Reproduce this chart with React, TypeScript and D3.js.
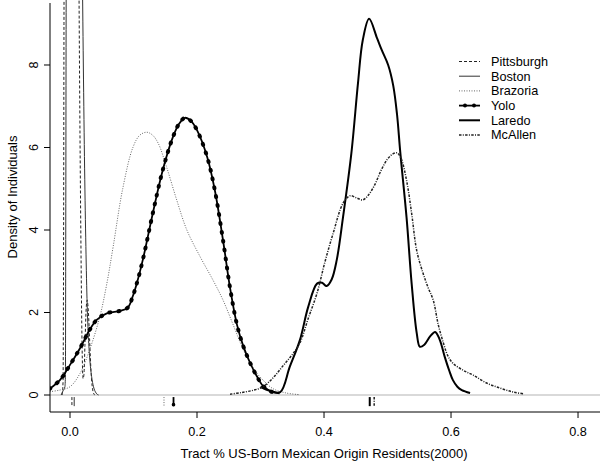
import React from "react";
import * as d3 from "d3";

// ---- data ----
const cityNames = ["Pittsburgh", "Boston", "Brazoria", "Yolo", "Laredo", "McAllen"];
const xTicks = [0, 0.2, 0.4, 0.6, 0.8];
const yTicks = [0, 2, 4, 6, 8];

const pittsburghDensity: [number, number][] = [
  [-0.0125, 0], [-0.011, 0.3], [-0.0102, 3], [-0.0095, 9], [-0.008, 16], [0.0, 28], [0.007, 28],
  [0.012, 16], [0.0145, 9], [0.017, 4], [0.019, 1.2], [0.0205, 0.4], [0.022, 0.5], [0.0235, 1.2],
  [0.0255, 2.1], [0.027, 2.3], [0.029, 2.0], [0.031, 1.3], [0.033, 0.6], [0.035, 0.2], [0.037, 0.05], [0.039, 0],
];
const bostonDensity: [number, number][] = [
  [-0.014, 0], [-0.011, 0.1], [-0.008, 0.2], [-0.0072, 0.5], [-0.0068, 3], [-0.006, 10], [-0.003, 20],
  [0.005, 30], [0.015, 20], [0.019, 11], [0.021, 8], [0.023, 5.5], [0.025, 3.6], [0.027, 2.2],
  [0.029, 1.4], [0.031, 0.9], [0.034, 0.45], [0.037, 0.2], [0.041, 0.05], [0.045, 0],
];
const brazoriaDensity: [number, number][] = [
  [-0.032, 0.08], [-0.016, 0.12], [0.0, 0.2], [0.016, 0.53], [0.031, 1.1], [0.047, 1.9], [0.058, 2.7],
  [0.068, 3.6], [0.083, 5.0], [0.099, 6.0], [0.11, 6.3], [0.121, 6.37], [0.13, 6.3], [0.139, 6.1],
  [0.152, 5.53], [0.168, 4.73], [0.184, 4.0], [0.205, 3.35], [0.225, 2.79], [0.241, 2.3], [0.257, 1.7],
  [0.273, 1.1], [0.29, 0.62], [0.304, 0.36], [0.32, 0.15], [0.34, 0.05], [0.36, 0.01],
];
const yoloDensity: [number, number][] = [
  [-0.032, 0.15], [-0.016, 0.36], [0.0, 0.73], [0.016, 1.14], [0.031, 1.58], [0.042, 1.82], [0.058, 1.98],
  [0.079, 2.04], [0.091, 2.12], [0.099, 2.4], [0.106, 2.75], [0.115, 3.3], [0.131, 4.45], [0.146, 5.45],
  [0.162, 6.25], [0.172, 6.58], [0.181, 6.72], [0.19, 6.65], [0.2, 6.42], [0.216, 5.77], [0.228, 4.97],
  [0.241, 3.75], [0.252, 2.6], [0.263, 1.7], [0.273, 1.18], [0.283, 0.8], [0.294, 0.46], [0.304, 0.22],
  [0.317, 0.08], [0.33, 0.04],
];
const laredoDensity: [number, number][] = [
  [0.3, 0.2], [0.315, 0.1], [0.331, 0.07], [0.346, 0.68], [0.362, 1.33], [0.375, 2.13], [0.389, 2.7],
  [0.397, 2.72], [0.404, 2.64], [0.412, 2.8], [0.42, 3.27], [0.43, 4.32], [0.443, 5.85], [0.4535, 7.56],
  [0.461, 8.6], [0.471, 9.12], [0.4835, 8.65], [0.491, 8.36], [0.501, 8.0], [0.509, 7.5], [0.515, 6.8],
  [0.52, 5.9], [0.53, 4.3], [0.538, 2.7], [0.546, 1.5], [0.551, 1.17], [0.558, 1.22], [0.567, 1.42],
  [0.575, 1.53], [0.582, 1.35], [0.59, 0.93], [0.597, 0.6], [0.603, 0.36], [0.61, 0.2], [0.617, 0.12], [0.63, 0.05],
];
const mcallenDensity: [number, number][] = [
  [0.252, 0.02], [0.27, 0.06], [0.29, 0.12], [0.304, 0.2], [0.32, 0.42], [0.335, 0.7], [0.35, 0.98],
  [0.362, 1.26], [0.375, 1.85], [0.389, 2.47], [0.401, 3.2], [0.414, 3.9], [0.43, 4.65], [0.441, 4.83],
  [0.451, 4.78], [0.461, 4.73], [0.47, 4.85], [0.48, 5.1], [0.49, 5.45], [0.5, 5.72], [0.509, 5.85],
  [0.515, 5.87], [0.521, 5.75], [0.53, 5.2], [0.538, 4.4], [0.546, 3.5], [0.556, 2.95], [0.564, 2.6],
  [0.572, 2.3], [0.58, 1.7], [0.588, 1.26], [0.595, 0.95], [0.603, 0.77], [0.619, 0.6], [0.635, 0.48],
  [0.656, 0.29], [0.677, 0.17], [0.698, 0.07], [0.714, 0.03],
];
const cityMeans = [0.003, 0.0066, 0.148, 0.163, 0.472, 0.479];

const xTitle = "Tract % US-Born Mexican Origin Residents(2000)";
const yTitle = "Density of Individuals";

// ---- styles ----
const W = 600, H = 461;
const plot = { left: 50, right: 600, top: 3, bottom: 412 };
const FONT = "'Liberation Sans', Arial, Helvetica, sans-serif";

type Sty = { stroke: string; width: number; dash?: string; dots?: boolean; smooth: boolean };
const styles: Sty[] = [
  { stroke: "#222", width: 1, dash: "3,2", smooth: false },
  { stroke: "#333", width: 1, smooth: false },
  { stroke: "#666", width: 1, dash: "1,1.5", smooth: true },
  { stroke: "#000", width: 1.8, dots: true, smooth: true },
  { stroke: "#000", width: 2, smooth: true },
  { stroke: "#222", width: 1.5, dash: "2.5,1.3,1,1.3", smooth: true },
];

export default function App() {
  const x = d3.scaleLinear().domain([-0.0315, 0.8346]).range([plot.left, plot.right]);
  const y = d3.scaleLinear().domain([-0.412, 9.503]).range([plot.bottom, plot.top]);
  const mkLine = (smooth: boolean) =>
    d3
      .line<[number, number]>()
      .x((d) => x(d[0]))
      .y((d) => y(d[1]))
      .curve(smooth ? d3.curveCatmullRom.alpha(0.5) : d3.curveMonotoneX);

  const series = [pittsburghDensity, bostonDensity, brazoriaDensity, yoloDensity, laredoDensity, mcallenDensity];

  const legendX = 459, legendTextX = 491, legendY0 = 61.5, legendStep = 14.7;
  const rugTop = y(-0.05), rugBottom = y(-0.27);

  return (
    <svg width={W} height={H} style={{ position: "absolute", left: 0, top: 0, background: "#fff" }} fontFamily={FONT}>
      <defs>
        <clipPath id="plotclip">
          <rect x={plot.left} y={0} width={plot.right - plot.left} height={plot.bottom} />
        </clipPath>
      </defs>
      <rect x={0} y={0} width={W} height={H} fill="#fff" />
      {/* zero line */}
      <line x1={plot.left} x2={plot.right} y1={y(0)} y2={y(0)} stroke="#ccc" strokeWidth={1.5} />

      <g clipPath="url(#plotclip)">
        {series.map((s, i) => {
          const st = styles[i];
          const path = mkLine(st.smooth)(s) || "";
          return (
            <g key={cityNames[i]}>
              <path d={path} fill="none" stroke={st.stroke} strokeWidth={st.width}
                strokeDasharray={st.dash} strokeLinejoin="round" />
              {st.dots && (
                <path d={path} fill="none" stroke="#000" strokeWidth={4}
                  strokeDasharray="1,8" strokeLinecap="round" />
              )}
            </g>
          );
        })}
        {/* rug of means */}
        {cityMeans.map((m, i) => {
          const st = styles[i];
          return (
            <g key={"rug" + i}>
              <line x1={x(m)} x2={x(m)} y1={rugTop} y2={rugBottom} stroke={st.stroke}
                strokeWidth={st.width} strokeDasharray={st.dash} />
              {st.dots && <circle cx={x(m)} cy={rugBottom - 1.5} r={1.8} fill="#000" />}
            </g>
          );
        })}
      </g>

      {/* axes */}
      <line x1={plot.left} x2={plot.right} y1={plot.bottom} y2={plot.bottom} stroke="#000" />
      <line x1={plot.left} x2={plot.left} y1={plot.top} y2={plot.bottom} stroke="#000" />
      {xTicks.map((t) => (
        <g key={"xt" + t}>
          <line x1={x(t)} x2={x(t)} y1={plot.bottom} y2={plot.bottom + 6} stroke="#000" />
          <text x={x(t)} y={436} fontSize={12.7} textAnchor="middle" fill="#000">
            {d3.format(".1f")(t)}
          </text>
        </g>
      ))}
      {yTicks.map((t) => (
        <g key={"yt" + t}>
          <line x1={plot.left - 6} x2={plot.left} y1={y(t)} y2={y(t)} stroke="#000" />
          <text transform={`translate(37.5,${y(t)}) rotate(-90)`} fontSize={12.7} textAnchor="middle" fill="#000">
            {t}
          </text>
        </g>
      ))}
      <text x={324} y={458} fontSize={13} textAnchor="middle" fill="#000">
        {xTitle}
      </text>
      <text transform={`translate(16.5,${197}) rotate(-90)`} fontSize={13} textAnchor="middle" fill="#000">
        {yTitle}
      </text>

      {/* legend */}
      {cityNames.map((c, i) => {
        const st = styles[i];
        const ly = legendY0 + i * legendStep;
        return (
          <g key={"lg" + c}>
            <line x1={legendX} x2={legendX + 21} y1={ly} y2={ly} stroke={st.stroke} strokeWidth={st.width}
              strokeDasharray={st.dash} />
            {st.dots && (
              <>
                <circle cx={legendX + 6} cy={ly} r={2} fill="#000" />
                <circle cx={legendX + 15} cy={ly} r={2} fill="#000" />
              </>
            )}
            <text x={legendTextX} y={ly} dy="0.35em" fontSize={12.7} fill="#000">
              {c}
            </text>
          </g>
        );
      })}
    </svg>
  );
}
